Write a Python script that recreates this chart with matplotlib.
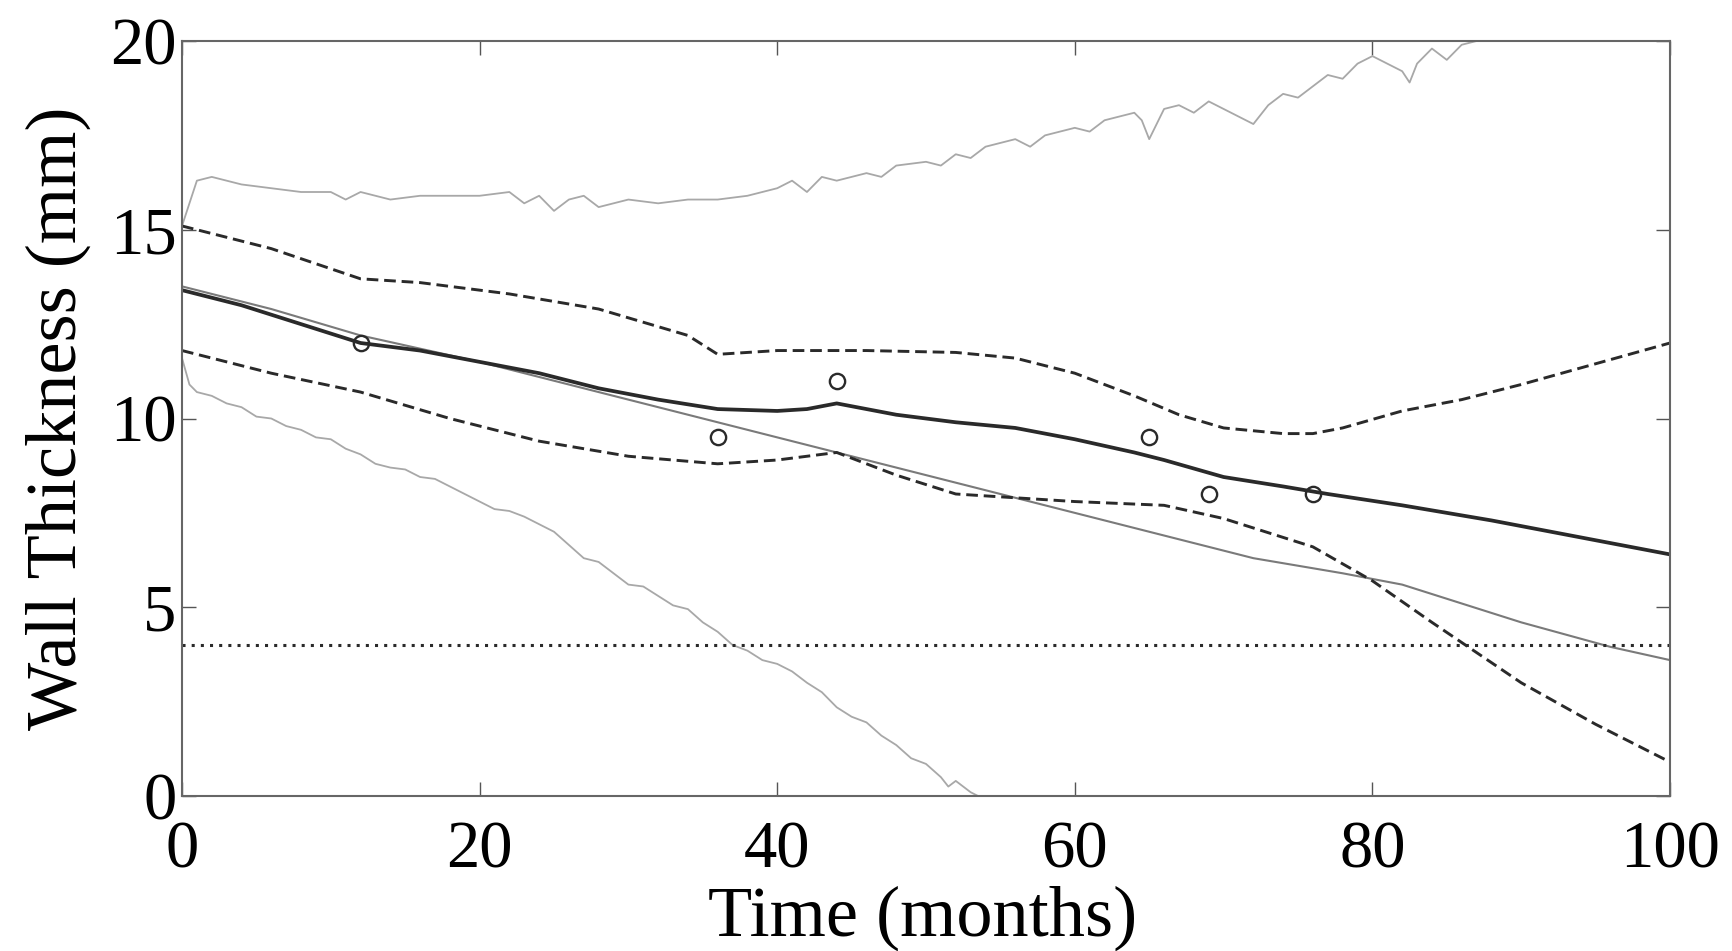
import numpy as np
import matplotlib
matplotlib.use("Agg")
import matplotlib.pyplot as plt

# median estimate (thick solid)
t_med = [0, 4, 8, 12, 16, 20, 24, 28, 32, 36, 40, 42, 44, 48, 52, 56, 60, 64, 66, 70, 74, 77, 82, 88, 94, 100]
w_med = [13.4, 13.0, 12.5, 12.0, 11.8, 11.5, 11.2, 10.8, 10.5, 10.25, 10.2, 10.25, 10.4, 10.1, 9.9, 9.75, 9.45, 9.1, 8.9, 8.45, 8.2, 8.0, 7.7, 7.3, 6.85, 6.4]

# thin grey solid line
t_thin = [0, 6, 12, 20, 26, 30, 38, 44, 52, 60, 66, 72, 78, 82, 86, 90, 96, 100]
w_thin = [13.5, 12.9, 12.2, 11.5, 10.9, 10.5, 9.7, 9.1, 8.3, 7.5, 6.9, 6.3, 5.9, 5.6, 5.1, 4.6, 3.95, 3.6]

# upper and lower bounds (dashed)
t_up = [0, 6, 12, 16, 22, 28, 34, 36, 40, 46, 52, 56, 60, 64, 67, 70, 74, 76, 78, 82, 86, 90, 95, 100]
w_up = [15.1, 14.5, 13.7, 13.6, 13.3, 12.9, 12.2, 11.7, 11.8, 11.8, 11.75, 11.6, 11.2, 10.6, 10.1, 9.75, 9.6, 9.6, 9.75, 10.2, 10.5, 10.9, 11.45, 12.0]

t_lo = [0, 6, 12, 18, 24, 30, 36, 40, 44, 48, 52, 56, 60, 66, 70, 76, 80, 84, 90, 95, 100]
w_lo = [11.8, 11.2, 10.7, 10.0, 9.4, 9.0, 8.8, 8.9, 9.1, 8.5, 8.0, 7.9, 7.8, 7.7, 7.35, 6.6, 5.7, 4.6, 3.0, 1.9, 0.9]

# simulated extremes (light grey, noisy)
t_hi_sim = [0, 1, 2, 4, 6, 8, 10, 11, 12, 14, 16, 18, 20, 22, 23, 24, 25, 26, 27, 28, 30, 32, 34, 36, 38,
            40, 41, 42, 43, 44, 46, 47, 48, 50, 51, 52, 53, 54, 56, 57, 58, 60, 61, 62, 64, 64.5, 65, 65.5,
            66, 67, 68, 69, 70, 71, 72, 73, 74, 75, 76, 77, 78, 79, 80, 81, 82, 82.5, 83, 84, 85, 86, 87,
            88, 90, 92, 95, 100]
w_hi_sim = [15.1, 16.3, 16.4, 16.2, 16.1, 16.0, 16.0, 15.8, 16.0, 15.8, 15.9, 15.9, 15.9, 16.0, 15.7, 15.9,
            15.5, 15.8, 15.9, 15.6, 15.8, 15.7, 15.8, 15.8, 15.9, 16.1, 16.3, 16.0, 16.4, 16.3, 16.5, 16.4,
            16.7, 16.8, 16.7, 17.0, 16.9, 17.2, 17.4, 17.2, 17.5, 17.7, 17.6, 17.9, 18.1, 17.9, 17.4, 17.8,
            18.2, 18.3, 18.1, 18.4, 18.2, 18.0, 17.8, 18.3, 18.6, 18.5, 18.8, 19.1, 19.0, 19.4, 19.6, 19.4,
            19.2, 18.9, 19.4, 19.8, 19.5, 19.9, 20.0, 20.1, 20.2, 20.4, 20.6, 21.0]

t_lo_sim = [0, 0.5, 1, 2, 3, 4, 5, 6, 7, 8, 9, 10, 11, 12, 13, 14, 15, 16, 17, 18, 19, 20, 21, 22, 23, 24,
            25, 26, 27, 28, 29, 30, 31, 32, 33, 34, 35, 36, 37, 38, 39, 40, 41, 42, 43, 44, 45, 46, 47, 48,
            49, 50, 51, 51.5, 52, 53, 54]
w_lo_sim = [11.6, 10.9, 10.7, 10.6, 10.4, 10.3, 10.05, 10.0, 9.8, 9.7, 9.5, 9.45, 9.2, 9.05, 8.8, 8.7,
            8.65, 8.45, 8.4, 8.2, 8.0, 7.8, 7.6, 7.55, 7.4, 7.2, 7.0, 6.65, 6.3, 6.2, 5.9, 5.6, 5.55, 5.3,
            5.05, 4.95, 4.6, 4.35, 4.0, 3.85, 3.6, 3.5, 3.3, 3.0, 2.75, 2.35, 2.1, 1.95, 1.6, 1.35, 1.0,
            0.85, 0.5, 0.25, 0.4, 0.1, -0.1]

# observed inspections
t_obs = [12, 36, 44, 65, 69, 76]
w_obs = [12.0, 9.5, 11.0, 9.5, 8.0, 8.0]

# minimum allowed thickness
w_min = 4.0

plt.rcParams["font.family"] = ["Liberation Serif", "DejaVu Serif"]

fig = plt.figure(figsize=(17.33, 9.51), dpi=100)
ax = fig.add_axes([182 / 1733, 1 - 796 / 951, (1670 - 182) / 1733, (796 - 41) / 951])

ax.plot(t_hi_sim, w_hi_sim, color="#a8a8a8", lw=1.3)
ax.plot(t_lo_sim, w_lo_sim, color="#a8a8a8", lw=1.3)
ax.plot(t_thin, w_thin, color="#7a7a7a", lw=1.5)
ax.plot(t_up, w_up, color="#2a2a2a", lw=2.1, ls=(0, (4, 2)))
ax.plot(t_lo, w_lo, color="#2a2a2a", lw=2.1, ls=(0, (4, 2)))
ax.plot(t_med, w_med, color="#2a2a2a", lw=2.7)
ax.axhline(w_min, color="#2a2a2a", lw=2.2, ls=(0, (1, 2)))
ax.plot(t_obs, w_obs, "o", mfc="none", mec="#2a2a2a", ms=11, mew=1.7)

ax.set_xlim(0, 100)
ax.set_ylim(0, 20)
ax.set_xticks([0, 20, 40, 60, 80, 100])
ax.set_yticks([0, 5, 10, 15, 20])
ax.tick_params(direction="in", top=True, right=True, length=10, width=1, color="#555555",
               labelsize=48)
ax.tick_params(axis="x", pad=18)
ax.tick_params(axis="y", pad=4)
for s in ax.spines.values():
    s.set_color("#666666")
    s.set_linewidth(1.5)

ax.set_xlabel("Time (months)", fontsize=52)
ax.set_ylabel("Wall Thickness (mm)", fontsize=52)
ax.xaxis.set_label_coords(0.498, -0.118)
ax.yaxis.set_label_coords(-0.061, 0.5)

fig.savefig("out.png", dpi=100)
